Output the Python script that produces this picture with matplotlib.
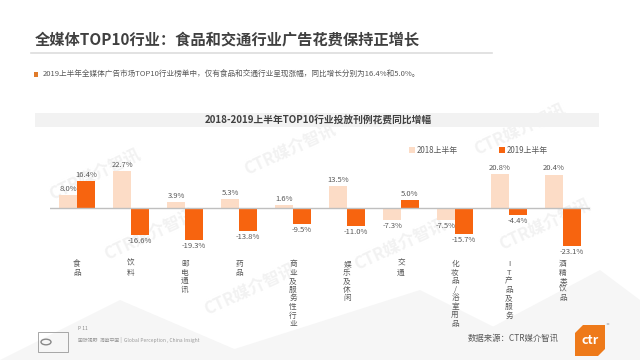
import matplotlib
matplotlib.use("Agg")
import matplotlib.pyplot as plt
import matplotlib.transforms as mtransforms
from matplotlib.patches import Rectangle, Polygon, Circle

plt.rcParams['font.family'] = ['Noto Sans CJK SC', 'DejaVu Sans']

##data
categories = ["食品", "饮料", "邮电通讯", "药品", "商业及服务性行业",
              "娱乐及休闲", "交通", "化妆品/浴室用品", "IT产品及服务", "酒精类饮品"]
h1_2018 = [8.0, 22.7, 3.9, 5.3, 1.6, 13.5, -7.3, -7.5, 20.8, 20.4]
h1_2019 = [16.4, -16.6, -19.3, -13.8, -9.5, -11.0, 5.0, -15.7, -4.4, -23.1]
series_names = ["2018上半年", "2019上半年"]

c2018 = "#FCDCC6"
c2019 = "#F7640F"
txt = "#595959"

W, H = 640, 360
fig = plt.figure(figsize=(6.4, 3.6), dpi=100)
fig.patch.set_facecolor("white")

def fx(x):
    return x / W

def fy(y):
    return 1 - y / H

##faint background shapes at the bottom
for pts in [[(0, 360), (120, 300), (260, 360)],
            [(200, 360), (420, 290), (560, 360)],
            [(430, 360), (600, 270), (640, 300), (640, 360)]]:
    fig.patches.append(Polygon([(fx(a), fy(b)) for a, b in pts], closed=True,
                               transform=fig.transFigure, facecolor="#F6F6F6",
                               edgecolor="none", zorder=-2))

##header
fig.text(fx(35), fy(39), "全媒体TOP10行业：食品和交通行业广告花费保持正增长",
         fontsize=11, fontweight="bold", color="#404040", va="center", ha="left")
fig.add_artist(plt.Line2D([fx(31), fx(492)], [fy(53), fy(53)],
                          transform=fig.transFigure, color="#DDDDDD", lw=1.2))
fig.patches.append(Rectangle((fx(34), fy(77)), 4 / W, 5 / H, transform=fig.transFigure,
                             facecolor="#E07B2A", edgecolor="none"))
fig.text(fx(43), fy(74.5), "2019上半年全媒体广告市场TOP10行业榜单中，仅有食品和交通行业呈现涨幅，同比增长分别为16.4%和5.0%。",
         fontsize=5.5, color=txt, va="center", ha="left")

##chart title band
fig.patches.append(Rectangle((fx(35), fy(127)), 564 / W, 14.5 / H, transform=fig.transFigure,
                             facecolor="#F2F2F2", edgecolor="none", zorder=-1))
fig.text(fx(318), fy(120), "2018-2019上半年TOP10行业投放刊例花费同比增幅",
         fontsize=7, fontweight="bold", color="#404040", va="center", ha="center")

##watermarks, kept behind the bars
for wx, wy in [(95, 175), (290, 150), (150, 235), (400, 245), (520, 130), (545, 225), (250, 290)]:
    fig.text(fx(wx), fy(wy), "CTR媒介智讯", fontsize=12, fontweight="bold", color="#F2F2F2",
             rotation=25, ha="center", va="center", zorder=-1)

##axes
top_px, bot_px = 140, 252
zero_px = 208
ppu = 1.64
ax = fig.add_axes([fx(50), fy(bot_px), 540 / W, (bot_px - top_px) / H])
ax.set_facecolor("none")
ax.set_xlim(-0.5, len(categories) - 0.5)
ax.set_ylim(-(bot_px - zero_px) / ppu, (zero_px - top_px) / ppu)
ax.axis("off")

x = list(range(len(categories)))
bw = 0.33
b1 = ax.bar([i - bw / 2 for i in x], h1_2018, width=bw, color=c2018, zorder=2)
b2 = ax.bar([i + bw / 2 for i in x], h1_2019, width=bw, color=c2019, zorder=2)
ax.axhline(0, color="#BFBFBF", lw=1, zorder=3)

for bars, vals in [(b1, h1_2018), (b2, h1_2019)]:
    for b, v in zip(bars, vals):
        cx = b.get_x() + b.get_width() / 2
        if v >= 0:
            ax.annotate("%.1f%%" % v, (cx, v), xytext=(0, 1.5), textcoords="offset points",
                        ha="center", va="bottom", fontsize=5.5, color=txt, zorder=4)
        else:
            ax.annotate("%.1f%%" % v, (cx, v), xytext=(0, -1.5), textcoords="offset points",
                        ha="center", va="top", fontsize=5.5, color=txt, zorder=4)

##category labels, one character per line
tr = mtransforms.blended_transform_factory(ax.transData, fig.transFigure)
for i, name in enumerate(categories):
    ax.text(i, fy(260), "\n".join(name), transform=tr, ha="center", va="top",
            fontsize=5.5, color=txt, linespacing=1.1, clip_on=False)

##legend
for (lx, name, col) in [(412, series_names[0], c2018), (502, series_names[1], c2019)]:
    fig.patches.append(Rectangle((fx(lx - 3), fy(153)), 6 / W, 6 / H, transform=fig.transFigure,
                                 facecolor=col, edgecolor="none"))
    fig.text(fx(lx + 5), fy(150), name, fontsize=5.7, color=txt, va="center", ha="left")

##footer
fig.patches.append(Rectangle((fx(38), fy(352)), 30 / W, 20 / H, transform=fig.transFigure,
                             facecolor="none", edgecolor="#999999", lw=0.6))
fig.patches.append(Circle((fx(46), fy(342)), 5 / W, transform=fig.transFigure,
                          facecolor="none", edgecolor="#888888", lw=1.0))
fig.text(fx(78), fy(329), "P 11", fontsize=3.5, color="#888888", va="center", ha="left")
fig.text(fx(78), fy(340), "国际视野  洞察中国 |  Global Perception , China Insight",
         fontsize=3.5, color="#999999", va="center", ha="left")
fig.text(fx(513), fy(338), "数据来源：CTR媒介智讯", fontsize=6, color=txt, va="center", ha="center")

logo = [(583, 325), (605, 325), (605, 349), (598, 356), (575, 356), (575, 333)]
fig.patches.append(Polygon([(fx(a), fy(b)) for a, b in logo], closed=True,
                           transform=fig.transFigure, facecolor="#EE7A1A", edgecolor="none"))
fig.text(fx(590), fy(341), "ctr", fontsize=9, fontweight="bold", color="white",
         va="center", ha="center")
fig.patches.append(Circle((fx(608), fy(324)), 1.5 / W, transform=fig.transFigure,
                          facecolor="#BBBBBB", edgecolor="none"))

fig.savefig("out.png", dpi=100)
